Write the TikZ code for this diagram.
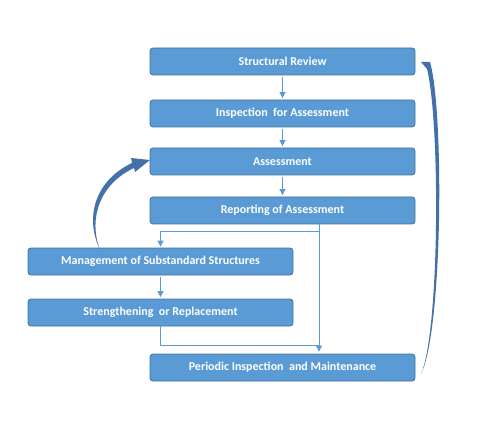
\documentclass[tikz,border=0pt]{standalone}
\usepackage{fontspec}
\setmainfont{Carlito}
\usetikzlibrary{arrows.meta}
\definecolor{boxfill}{HTML}{5B9BD5}
\definecolor{boxline}{HTML}{41719C}
\definecolor{curvecol}{HTML}{4472A8}
\tikzset{
  stepbox/.style={draw=boxline, fill=boxfill, line width=0.8pt, rounded corners=3pt,
    minimum width=265pt, minimum height=27pt, inner sep=0pt, text=white,
    font=\fontsize{12}{14}\selectfont\bfseries},
  conn/.style={draw=boxfill, line width=0.8pt},
  arr/.style={conn, -{Triangle[width=6pt,length=6pt]}},
}
\begin{document}
\begin{tikzpicture}[x=1pt,y=-1pt]
\useasboundingbox (0,0) rectangle (492,430);
\node[stepbox] (sr) at (282.5,61.5) {Structural Review};
\node[stepbox] (ia) at (282.5,113.5) {Inspection\ \ for Assessment};
\node[stepbox] (as) at (282.5,161.5) {Assessment};
\node[stepbox] (rp) at (282.5,210.5) {Reporting of Assessment};
\node[stepbox] (mg) at (160.5,261.5) {Management of Substandard Structures};
\node[stepbox] (st) at (160.5,312.5) {Strengthening\ \ or Replacement};
\node[stepbox] (pm) at (282.5,367.5) {Periodic Inspection\ \ and Maintenance};

\draw[arr, shorten <=1.5pt, shorten >=1.5pt] (sr.south) -- (ia.north);
\draw[arr, shorten <=1.5pt, shorten >=1.5pt] (ia.south) -- (as.north);
\draw[arr, shorten <=1.5pt, shorten >=1.5pt] (as.south) -- (rp.north);
\draw[arr, shorten <=1.5pt, shorten >=1.5pt] (mg.south) -- (st.north);

\coordinate (jr) at (319,231);
\coordinate (js) at (319,345);
\draw[arr, shorten >=1pt] (rp.south -| jr) -- (jr) -- (jr -| mg.north) -- (mg.north);
\draw[arr, shorten >=2pt] (rp.south -| jr) -- (pm.north -| jr);
\draw[conn] (st.south) -- (st.south |- js) -- (js);

% left curved arrow: Management -> Assessment
\fill[curvecol] (100,250) .. controls (88,218) and (100,184) .. (134,168)
  -- (135,172) -- (150,160) -- (131,158) -- (132,163)
  .. controls (96,180) and (84,216) .. (100,250) -- cycle;
% right curved arrow: Periodic -> Structural Review
\fill[curvecol] (421,374) .. controls (443,330) and (444,110) .. (430,62)
  -- (421,62) -- (427,69) .. controls (440,120) and (440,330) .. (421,374) -- cycle;
\end{tikzpicture}
\end{document}
